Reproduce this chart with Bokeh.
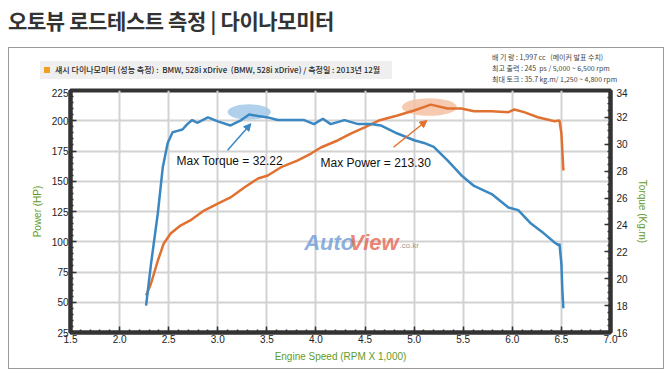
from bokeh.plotting import figure
from bokeh.models import (Range1d, LinearAxis, SingleIntervalTicker, NumeralTickFormatter,
                          Label, Arrow, NormalHead, Div)
from bokeh.layouts import column
from bokeh.embed import file_html
from bokeh.resources import INLINE

# ---------------- data ----------------
rpm_torque = [2.27, 2.32, 2.39, 2.44, 2.49, 2.54, 2.59, 2.64, 2.69, 2.74,
              2.79, 2.90, 3.00, 3.13, 3.24, 3.32, 3.41, 3.51, 3.61, 3.75,
              3.88, 3.98, 4.07, 4.15, 4.29, 4.43, 4.56, 4.66, 4.83, 5.00,
              5.10, 5.20, 5.34, 5.48, 5.61, 5.79, 5.96, 6.06, 6.19, 6.30,
              6.43, 6.47, 6.48, 6.50, 6.51, 6.52]
torque = [18.0, 21.1, 24.9, 28.3, 30.1, 30.9, 31.0, 31.1, 31.5, 31.8,
          31.6, 32.0, 31.7, 31.4, 31.8, 32.22, 32.1, 32.0, 31.8, 31.8,
          31.8, 31.5, 31.9, 31.5, 31.8, 31.5, 31.5, 31.4, 30.8, 30.3,
          30.1, 29.8, 28.8, 27.7, 26.9, 26.3, 25.3, 25.1, 24.1, 23.5,
          22.7, 22.5, 22.6, 21.1, 19.1, 17.8]

rpm_power = [2.27, 2.32, 2.39, 2.45, 2.52, 2.62, 2.72, 2.86, 3.00, 3.13,
             3.27, 3.41, 3.51, 3.64, 3.81, 3.95, 4.05, 4.22, 4.36, 4.49,
             4.64, 4.83, 5.00, 5.17, 5.34, 5.48, 5.61, 5.79, 5.96, 6.02,
             6.12, 6.26, 6.43, 6.48, 6.50, 6.52]
power = [55.6, 65.5, 84.5, 98.6, 106.8, 113.4, 117.6, 125.8, 131.6, 136.6,
         144.8, 152.3, 154.8, 161.4, 167.1, 172.9, 177.9, 183.7, 189.5, 194.4,
         200.2, 204.3, 208.5, 213.3, 210.1, 210.1, 207.9, 207.9, 207.1, 209.3,
         207.1, 202.9, 199.6, 200.2, 189.5, 158.9]

title_text = "오토뷰 로드테스트 측정 | 다이나모미터"
subtitle_text = "섀시 다이나모미터 (성능 측정) :&nbsp; BMW, 528i xDrive &nbsp;(BMW, 528i xDrive) / 측정일 : 2013년 12월"
spec_lines = ["배 기 량 : 1,997 cc &nbsp; (메이커 발표 수치)",
              "최고 출력 : 245 &nbsp;ps / 5,000 ~ 6,500 rpm",
              "최대 토크 : 35.7 kg.m/ 1,250 ~ 4,800 rpm"]
x_label = "Engine Speed (RPM X 1,000)"
y_label = "Power (HP)"
y2_label = "Torque (Kg.m)"

BLUE = "#3a87c2"
ORANGE = "#e07130"
GREEN = "#5f9b2a"
FONT = "Liberation Sans"
KFONT = "Noto Sans CJK KR"

# ---------------- title ----------------
title_div = Div(
    text=f'<div style="font-family:\'{KFONT}\';font-weight:bold;font-size:21px;'
         f'color:#333;line-height:24px;letter-spacing:-0.4px;white-space:nowrap">{title_text}</div>',
    width=656, height=39, margin=(8, 0, 0, 8))

# ---------------- header (inside box) ----------------
spec_html = "<br>".join(spec_lines)
header_div = Div(
    text=(f'<div style="position:relative;width:654px;height:40px;font-family:\'{KFONT}\';">'
          '<div style="position:absolute;left:31px;top:13px;width:352px;height:18px;background:#efefef;"></div>'
          '<div style="position:absolute;left:35px;top:19px;width:6px;height:6px;background:#f0a020;"></div>'
          f'<div style="position:absolute;left:46px;top:13px;line-height:18px;font-size:8px;font-weight:500;color:#2a2a2a;white-space:nowrap">{subtitle_text}</div>'
          f'<div style="position:absolute;left:483px;top:4px;line-height:11px;font-size:7px;color:#444;white-space:nowrap">{spec_html}</div>'
          '</div>'),
    width=654, height=40, margin=(0, 0, 0, 0))

# ---------------- figure ----------------
p = figure(width=654, height=280, output_backend="svg", toolbar_location=None,
           x_range=Range1d(1.5, 7.0), y_range=Range1d(25, 225),
           min_border_left=61, min_border_right=53, min_border_top=2, min_border_bottom=36,
           background_fill_color="white", border_fill_color="white",
           outline_line_color="#333333", outline_line_width=4,
           margin=(0, 0, 0, 0))
p.extra_y_ranges = {"torque": Range1d(16, 34)}

p.xaxis.ticker = SingleIntervalTicker(interval=0.5, num_minor_ticks=5)
p.xaxis.formatter = NumeralTickFormatter(format="0.0")
p.yaxis.ticker = SingleIntervalTicker(interval=25, num_minor_ticks=5)

right = LinearAxis(y_range_name="torque", ticker=SingleIntervalTicker(interval=2, num_minor_ticks=4))
p.add_layout(right, "right")

p.xaxis.axis_label = x_label
p.yaxis.axis_label = y_label
right.axis_label = y2_label

for ax in [p.xaxis[0], p.yaxis[0], right]:
    ax.axis_line_color = "#333333"
    ax.axis_line_width = 4
    ax.major_tick_in = 6
    ax.major_tick_out = 0
    ax.minor_tick_in = 3
    ax.minor_tick_out = 0
    ax.major_tick_line_color = "#333333"
    ax.major_tick_line_width = 1.5
    ax.minor_tick_line_color = "#333333"
    ax.minor_tick_line_width = 1.5
    ax.major_label_text_font = FONT
    ax.major_label_text_font_size = "10px"
    ax.major_label_text_color = "#222222"
    ax.axis_label_text_font = FONT
    ax.axis_label_text_font_size = "10px"
    ax.axis_label_text_font_style = "normal"
    ax.axis_label_text_color = GREEN

p.xaxis.major_label_standoff = 2
p.xaxis.axis_label_standoff = 5
p.yaxis.major_label_standoff = 2
p.yaxis.axis_label_standoff = 6
right.major_label_standoff = 6
right.axis_label_standoff = 6

p.xgrid.grid_line_color = "#d2d2d2"
p.xgrid.grid_line_width = 2
p.ygrid.grid_line_color = "#d2d2d2"
p.ygrid.grid_line_width = 2

# ---------------- highlight ellipses ----------------
i_t = torque.index(max(torque))
i_p = power.index(max(power))
t_r, t_v = rpm_torque[i_t], torque[i_t]
p_r, p_v = rpm_power[i_p], power[i_p]

p.ellipse(x=[t_r], y=[t_v + 0.18], width=0.44, height=1.15, y_range_name="torque",
          fill_color="#a2c8e8", fill_alpha=0.85, line_color=None)
p.ellipse(x=[p_r - 0.015], y=[p_v - 2.0], width=0.56, height=14.5,
          fill_color="#f4c1a3", fill_alpha=0.85, line_color=None)

# ---------------- curves ----------------
p.line(rpm_power, power, line_color=ORANGE, line_width=2.5)
p.line(rpm_torque, torque, line_color=BLUE, line_width=2.5, y_range_name="torque")

# ---------------- arrows ----------------
p.add_layout(Arrow(x_start=t_r - 0.22, y_start=t_v - 2.67, x_end=t_r + 0.017, y_end=t_v - 0.69,
                   y_range_name="torque", line_color=BLUE, line_width=1.5,
                   end=NormalHead(size=7, fill_color=BLUE, line_color=BLUE)))
p.add_layout(Arrow(x_start=p_r - 0.38, y_start=p_v - 35.2, x_end=p_r - 0.04, y_end=p_v - 13.1,
                   line_color=ORANGE, line_width=1.5,
                   end=NormalHead(size=7, fill_color=ORANGE, line_color=ORANGE)))

p.add_layout(Label(x=2.58, y=167.1, text=f"Max Torque = {max(torque):.2f}",
                   text_font=FONT, text_font_size="12px", text_color="#111111",
                   text_baseline="middle"))
p.add_layout(Label(x=4.046, y=164.7, text=f"Max Power = {max(power):.2f}",
                   text_font=FONT, text_font_size="12px", text_color="#111111",
                   text_baseline="middle"))

# ---------------- watermark ----------------
p.add_layout(Label(x=3.88, y=99.4, text="Auto", text_font=FONT, text_font_size="22px",
                   text_font_style="bold italic", text_color="#6d9bd6", text_alpha=0.8,
                   text_baseline="middle"))
p.add_layout(Label(x=4.34, y=99.4, text="View", text_font=FONT, text_font_size="22px",
                   text_font_style="bold italic", text_color="#e6634f", text_alpha=0.8,
                   text_baseline="middle"))
p.add_layout(Label(x=4.85, y=96.9, text=".co.kr", text_font=FONT, text_font_size="8px",
                   text_color="#999999", text_baseline="middle"))

box = column(header_div, p, spacing=0, margin=(0, 0, 0, 8),
             styles={"border": "1px solid #9a9a9a", "background-color": "white"})
layout = column(title_div, box, spacing=0)
open("out.html", "w").write(file_html(layout, INLINE))
